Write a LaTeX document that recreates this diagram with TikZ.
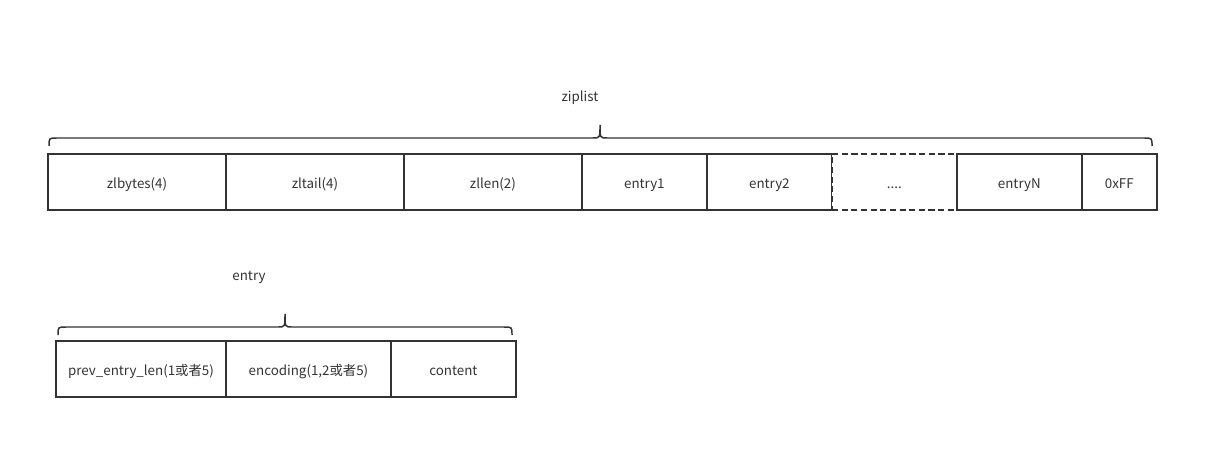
\documentclass[tikz,border=0pt]{standalone}
\usepackage{fontspec}
\setmainfont{Noto Sans CJK SC}
\usetikzlibrary{positioning,calc}
\definecolor{ink}{HTML}{333333}

\tikzset{
  cell/.style={draw=ink,line width=0.85pt,text=ink,minimum height=1.12cm,inner sep=0pt,outer sep=0pt,
    text height=7.5pt,text depth=0pt,font=\fontsize{7.6}{9}\selectfont},
  dotcell/.style={cell,fill=white,dashed,dash pattern=on 3.5pt off 2pt},
  brace/.style={draw=ink,line width=0.85pt},
  title/.style={text=ink,font=\fontsize{7.6}{9}\selectfont}
}

\begin{document}
\begin{tikzpicture}[x=0.02cm,y=-0.02cm]
\useasboundingbox (0,0) rectangle (1219,459);
\coordinate[] (Z0) at (48,182);
\coordinate[] (E0) at (56,369);

% ziplist row
\node[cell,minimum width=3.56cm,anchor=west] (zlbytes) at (Z0) {zlbytes(4)};
\node[cell,minimum width=3.56cm,right=0pt of zlbytes] (zltail) {zltail(4)};
\node[cell,minimum width=3.56cm,right=0pt of zltail] (zllen) {zllen(2)};
\node[cell,minimum width=2.5cm,right=0pt of zllen] (entry1) {entry1};
\node[cell,minimum width=2.5cm,right=0pt of entry1] (entry2) {entry2};
\node[dotcell,minimum width=2.5cm,right=0pt of entry2] (dots) {....};
\node[cell,minimum width=2.5cm,right=0pt of dots] (entryN) {entryN};
\node[cell,minimum width=1.5cm,right=0pt of entryN] (end) {0xFF};

% entry row
\node[cell,minimum width=3.4cm,anchor=west] (prev) at (E0) {prev\_entry\_len(1或者5)};
\node[cell,minimum width=3.3cm,right=0pt of prev] (enc) {encoding(1,2或者5)};
\node[cell,minimum width=2.5cm,right=0pt of enc] (content) {content};

% braces
\coordinate[] (A) at (49,146);
\coordinate[] (B) at (600,125);
\coordinate[] (C) at (1152,146);
\coordinate[] (D) at (58,335);
\coordinate[] (E) at (285,314);
\coordinate[] (F) at (512,335);
\draw[brace] (A) .. controls ($(A)+(0,-8)$) .. ($(A)+(8,-8)$) -- ($(B)+(-7,13)$) .. controls ($(B)+(0,13)$) .. (B)
  .. controls ($(B)+(0,13)$) .. ($(B)+(7,13)$) -- ($(C)+(-8,-8)$) .. controls ($(C)+(0,-8)$) .. (C);
\draw[brace] (D) .. controls ($(D)+(0,-8)$) .. ($(D)+(8,-8)$) -- ($(E)+(-7,13)$) .. controls ($(E)+(0,13)$) .. (E)
  .. controls ($(E)+(0,13)$) .. ($(E)+(7,13)$) -- ($(F)+(-8,-8)$) .. controls ($(F)+(0,-8)$) .. (F);

\node[title] (ziplist) at (580,98) {ziplist};
\node[title] (entry) at (249,277) {entry};
\end{tikzpicture}
\end{document}
